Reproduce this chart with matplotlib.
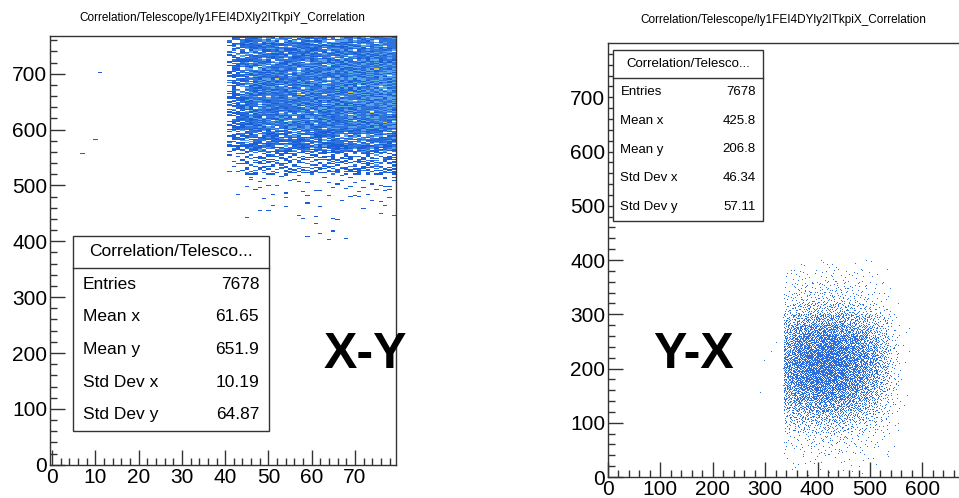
import numpy as np
import matplotlib.pyplot as plt
from matplotlib.colors import ListedColormap, BoundaryNorm
from matplotlib.patches import Rectangle

plt.rcParams['font.family'] = ['Liberation Sans', 'DejaVu Sans']

# ---- X-Y correlation (FEI4 X vs ITkPix Y) ----
xy_title = "Correlation/Telescope/ly1FEI4DXly2ITkpiY_Correlation"
xy_col_edges = [41, 44, 48, 52, 56, 60, 64, 68, 72, 76, 79.5]
xy_row_edges = [400, 440, 480, 520, 560, 600, 640, 680, 720, 767.5]
# entries per (row, column) block, bottom row first
xy_counts = [
    [0, 0, 0, 0, 2, 3, 2, 1, 0, 0],
    [0, 2, 2, 2, 2, 2, 2, 3, 2, 3],
    [1, 4, 5, 5, 5, 5, 6, 6, 6, 7],
    [10, 36, 41, 41, 41, 41, 46, 46, 52, 46],
    [40, 105, 113, 113, 118, 118, 123, 128, 127, 115],
    [55, 140, 150, 150, 155, 155, 160, 165, 170, 150],
    [60, 145, 155, 155, 160, 160, 165, 175, 180, 165],
    [60, 145, 155, 155, 160, 160, 165, 175, 180, 165],
    [70, 155, 165, 165, 170, 170, 175, 180, 187, 170],
]
xy_lone_x = [7, 10, 11]
xy_lone_y = [556, 582, 703]
xy_stats = [("Entries", "7678"), ("Mean x", "61.65"), ("Mean y", "651.9"),
            ("Std Dev x", "10.19"), ("Std Dev y", "64.87")]

# ---- Y-X correlation (FEI4 Y vs ITkPix X) ----
yx_title = "Correlation/Telescope/ly1FEI4DYly2ITkpiX_Correlation"
yx_col_edges = [280, 335, 355, 375, 395, 415, 435, 455, 475, 495, 515, 535, 555, 575]
yx_col_counts = [6, 610, 830, 940, 1000, 1030, 970, 810, 650, 470, 260, 90, 12]
yx_row_edges = np.arange(0, 401, 20)
yx_row_weights = [10, 20, 45, 75, 160, 290, 480, 670, 850, 950,
                  950, 900, 780, 620, 400, 220, 120, 80, 40, 15]
yx_stats = [("Entries", "7678"), ("Mean x", "425.8"), ("Mean y", "206.8"),
            ("Std Dev x", "46.34"), ("Std Dev y", "57.11")]


def halton(n, base):
    k = np.arange(1, n + 1)
    r = np.zeros(n)
    f = 1.0
    while k.any():
        f /= base
        r += f * (k % base)
        k //= base
    return r


def fill_density(col_edges, row_edges, counts):
    # spread the entries over the area following the block densities
    col_edges = np.asarray(col_edges, float)
    row_edges = np.asarray(row_edges, float)
    counts = np.asarray(counts, float)
    area = np.outer(np.diff(row_edges), np.diff(col_edges))
    dens = counts / area
    total = int(counts.sum())
    x0, x1 = col_edges[0], col_edges[-1]
    y0, y1 = row_edges[0], row_edges[-1]
    n = int((x1 - x0) * (y1 - y0) * dens.max() * 1.05) + 10
    px = x0 + halton(n, 2) * (x1 - x0)
    py = y0 + halton(n, 3) * (y1 - y0)
    pa = halton(n, 5)
    j = np.clip(np.searchsorted(col_edges, px) - 1, 0, len(col_edges) - 2)
    i = np.clip(np.searchsorted(row_edges, py) - 1, 0, len(row_edges) - 2)
    keep = pa < dens[i, j] / dens.max()
    return px[keep][:total], py[keep][:total]


def stats_box(fig, x0, y0, x1, y1, head, rows, fs):
    W, H = fig.bbox.width, fig.bbox.height
    fx = lambda p: p / W
    fy = lambda p: 1 - p / H
    fig.add_artist(Rectangle((fx(x0), fy(y1)), fx(x1 - x0), (y1 - y0) / H,
                             transform=fig.transFigure, facecolor='white',
                             edgecolor='#333333', lw=1.0, zorder=10))
    fig.add_artist(plt.Line2D([fx(x0), fx(x1)], [fy(y0 + head)] * 2,
                              transform=fig.transFigure, color='#333333',
                              lw=1.0, zorder=11))
    fig.text(fx((x0 + x1) / 2), fy(y0 + head / 2), "Correlation/Telesco...",
             ha='center', va='center', fontsize=fs, zorder=12)
    step = (y1 - y0 - head) / len(rows)
    pad = (x1 - x0) * 0.05
    for k, (name, val) in enumerate(rows):
        yc = fy(y0 + head + step * (k + 0.5))
        fig.text(fx(x0 + pad), yc, name, ha='left', va='center', fontsize=fs, zorder=12)
        fig.text(fx(x1 - pad), yc, val, ha='right', va='center', fontsize=fs, zorder=12)


def style_axes(ax, major, minor):
    for s in ax.spines.values():
        s.set_color('#333333')
        s.set_linewidth(1.0)
    ax.set_xticks(np.arange(0, ax.get_xlim()[1], major[0]))
    ax.set_yticks(np.arange(0, ax.get_ylim()[1], major[1]))
    ax.set_xticks(np.arange(0, ax.get_xlim()[1], minor[0]), minor=True)
    ax.set_yticks(np.arange(0, ax.get_ylim()[1], minor[1]), minor=True)
    ax.tick_params(which='both', direction='in', top=False, right=False,
                   color='#333333', width=1.0, labelsize=15, pad=2)
    ax.tick_params(which='major', length=11)
    ax.tick_params(which='minor', length=5)


fig = plt.figure(figsize=(9.59, 4.98), dpi=100)

# left panel
ax1 = fig.add_axes([50 / 959, 33 / 498, 346 / 959, 429 / 498])
lx, ly = fill_density(xy_col_edges, xy_row_edges, xy_counts)
lx = np.concatenate([lx, xy_lone_x])
ly = np.concatenate([ly, xy_lone_y])
cmap = ListedColormap(['#1a5fd8', '#2f74de', '#5aa0e6', '#50b4d6', '#d6c64a'])
norm = BoundaryNorm([0.5, 1.5, 2.5, 3.5, 4.5, 99], cmap.N)
ax1.hist2d(lx, ly, bins=[np.arange(-0.5, 80, 1), np.arange(-0.5, 768, 2)],
           cmap=cmap, norm=norm, cmin=1)
ax1.set_xlim(-0.5, 79.5)
ax1.set_ylim(-0.5, 767.5)
style_axes(ax1, (10, 100), (2, 20))
fig.text(222 / 959, 1 - 18 / 498, xy_title, ha='center', va='center', fontsize=8.5)

# right panel
ax2 = fig.add_axes([608 / 959, 21 / 498, 352 / 959, 434 / 498])
share = np.array(yx_row_weights) / np.sum(yx_row_weights)
grid = np.round(np.outer(share, yx_col_counts))
rx, ry = fill_density(yx_col_edges, yx_row_edges, grid)
ax2.plot(rx, ry, ',', color='#2468de', alpha=0.95)
ax2.set_xlim(0, 672)
ax2.set_ylim(0, 800)
style_axes(ax2, (100, 100), (20, 20))
fig.text(783 / 959, 1 - 20 / 498, yx_title, ha='center', va='center', fontsize=8.5)

stats_box(fig, 73, 236, 269, 431, 32, xy_stats, 12.5)
stats_box(fig, 613, 50, 763, 221, 28, yx_stats, 9.5)

fig.text(365 / 959, 1 - 355 / 498, "X-Y", ha='center', va='center',
         fontsize=36, fontweight='bold', zorder=20)
fig.text(693 / 959, 1 - 355 / 498, "Y-X", ha='center', va='center',
         fontsize=36, fontweight='bold', zorder=20)

fig.savefig("out.png", dpi=100)
